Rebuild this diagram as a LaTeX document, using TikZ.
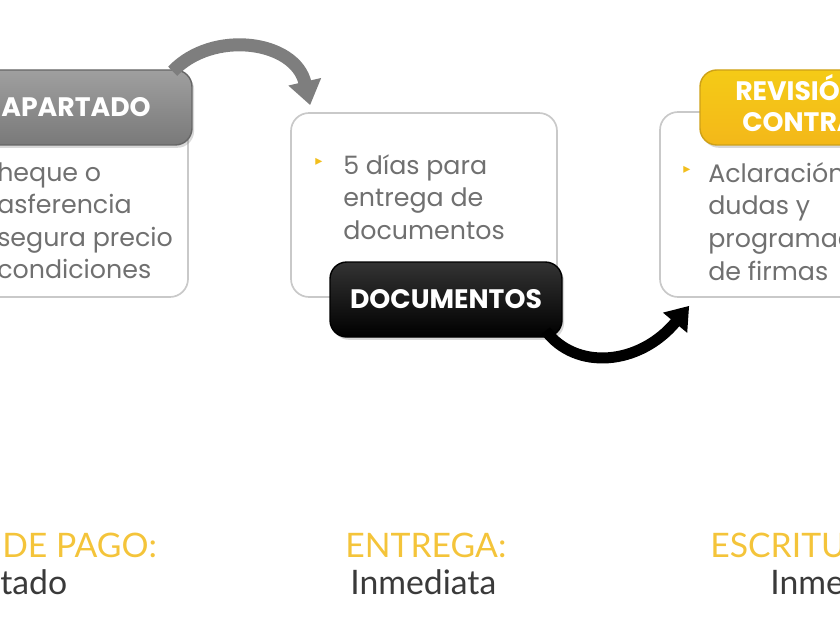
\documentclass[tikz,border=0pt]{standalone}
\usepackage{fontspec}
\setmainfont{Poppins}
\newfontfamily\pie{Lato}
\newfontfamily\simbolos{DejaVu Sans}
\usetikzlibrary{calc}
\usetikzlibrary{arrows.meta}
\usetikzlibrary{shadows}
\definecolor{grisBorde}{HTML}{C9C9C9}
\definecolor{grisTexto}{HTML}{707070}
\definecolor{grisFlecha}{HTML}{7E7E7E}
\definecolor{amarillo}{HTML}{F2BE1C}
\definecolor{amarilloPie}{HTML}{F4C43A}
\definecolor{negroPie}{HTML}{3A3A3A}
\tikzset{
 caja/.style={draw=grisBorde, line width=1.2pt, fill=white, rounded corners=0.45cm},
 cabecera/.style={rounded corners=0.42cm, line width=1pt, text=white, inner sep=0,
   font=\fontsize{19}{22}\selectfont\bfseries,
   drop shadow={opacity=0.3, shadow xshift=1.5pt, shadow yshift=-2pt}},
 texto/.style={text=grisTexto, align=left, inner sep=0, anchor=north west,
   font=\fontsize{18}{23.2}\selectfont},
 titulo/.style={text=white, inner sep=0, anchor=base west, font=\fontsize{19}{22}\selectfont\bfseries},
 vineta/.style={text=amarillo, inner sep=0, font=\simbolos\fontsize{10}{10}\selectfont},
 pieTitulo/.style={text=amarilloPie, inner sep=0, anchor=base west, font=\pie\fontsize{24}{24}\selectfont},
 pieTexto/.style={text=negroPie, inner sep=0, anchor=base west, font=\pie\fontsize{24}{24}\selectfont},
}
\begin{document}
\begin{tikzpicture}[x=0.025cm, y=-0.025cm]
\def\unidad{0.025cm}
\useasboundingbox (0,0) rectangle (840,630);
\clip (0,0) rectangle (840,630);

% cajas
\node[caja, minimum width=250*\unidad, minimum height=187*\unidad] (cajaApartado) at (63,203.5) {};
\node[caja, minimum width=266*\unidad, minimum height=184*\unidad] (cajaEntrega) at (424,205) {};
\node[caja, minimum width=340*\unidad, minimum height=185*\unidad] (cajaRevision) at (830,204.5) {};

% cabeceras
\node[cabecera, top color=gray!75, bottom color=gray!95!black, draw=gray!80!black,
  minimum width=232*\unidad, minimum height=75*\unidad] (apartado) at (76,107.5) {APARTADO};
\node[cabecera, top color=black!80, bottom color=black, draw=black,
  minimum width=232*\unidad, minimum height=75*\unidad] (documentos) at (446,299.5) {DOCUMENTOS};
\node[cabecera, top color=amarillo!80!yellow, bottom color=amarillo!90!orange, draw=amarillo!85!black,
  minimum width=260*\unidad, minimum height=75*\unidad] (revision) at (830,107.5) {};
\node[titulo] (revision1) at (735,101) {REVISIÓN};
\node[titulo] (revision2) at (742,132) {CONTRA};

% textos
\node[texto] (textoApartado) at (-3,162) {heque o\\asferencia\\segura precio\\condiciones};
\node[vineta] (vinetaEntrega) at (319,162) {▸};
\node[texto] (textoEntrega) at (343,154) {5 días para\\entrega de\\documentos};
\node[vineta] (vinetaRevision) at (687,170) {▸};
\node[texto] (textoRevision) at (708,162) {Aclaración\\dudas y\\programac\\de firmas};

% flechas
\draw[line width=13*\unidad, color=grisFlecha, -{Triangle[length=0.6cm, width=0.8cm]}]
  ($(apartado.north east)+(-20,2)$) .. controls +(40,-42) and +(-15,-65) .. ($(cajaEntrega.north west)+(20,-7)$);
\draw[line width=11*\unidad, color=black, -{Triangle[length=0.55cm, width=0.75cm]}]
  ($(documentos.south east)+(-17,-7)$) .. controls +(30,40) and +(-50,60) .. ($(cajaRevision.south west)+(30,8)$);

% pie
\node[pieTitulo] (pagoTitulo) at (2,557) {DE PAGO:};
\node[pieTexto] (pagoTexto) at (0,594) {tado};
\node[pieTitulo] (entregaTitulo) at (345,557) {ENTREGA:};
\node[pieTexto] (entregaTexto) at (350,594) {Inmediata};
\node[pieTitulo] (escrituraTitulo) at (710,557) {ESCRITU};
\node[pieTexto] (escrituraTexto) at (770,594) {Inme};
\end{tikzpicture}
\end{document}
